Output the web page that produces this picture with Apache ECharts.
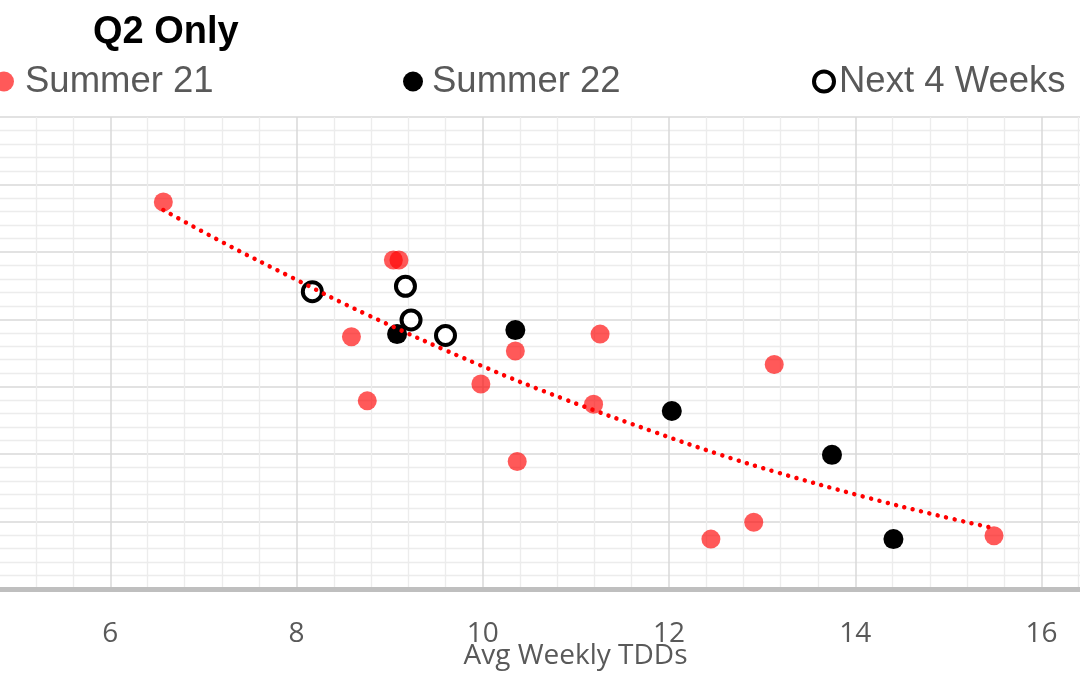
<!DOCTYPE html>
<html>
<head>
<meta charset="utf-8">
<script src="https://cdn.jsdelivr.net/npm/echarts@6/dist/echarts.min.js"></script>
<style>
html,body{margin:0;padding:0;background:#fff;}
#chart{width:1080px;height:675px;}
</style>
</head>
<body>
<div id="chart"></div>
<script>
// ---- data ----
var titleText = 'Q2 Only';
var xAxisName = 'Avg Weekly TDDs';
var seriesNames = ['Summer 21', 'Summer 22', 'Next 4 Weeks'];

var summer21 = [
  [6.57, 5.74], [9.04, 4.88], [9.10, 4.88], [8.59, 3.74], [8.76, 2.79],
  [10.35, 3.53], [11.26, 3.78], [9.98, 3.04], [11.19, 2.74], [10.37, 1.89],
  [13.13, 3.33], [12.91, 0.99], [12.45, 0.74], [15.49, 0.79]
];
var summer22 = [
  [9.08, 3.78], [10.35, 3.84], [12.03, 2.64], [13.75, 1.99], [14.41, 0.74]
];
var next4Weeks = [
  [8.17, 4.41], [9.17, 4.49], [9.23, 3.99], [9.60, 3.76]
];
// trendline read at several positions along the dotted curve
var trendX = [6.57, 7.25, 7.95, 8.74, 9.97, 10.87, 11.86, 12.51, 13.16, 14.09, 14.86, 15.43];
var trendY = [5.62, 5.11, 4.62, 4.08, 3.32, 2.82, 2.32, 2.01, 1.73, 1.37, 1.10, 0.92];

var trend = trendX.map(function (x, i) { return [x, trendY[i]]; });

var labelFont = '"Open Sans", "DejaVu Sans", sans-serif';
var arialFont = '"Liberation Sans", Arial, sans-serif';

var chart = echarts.init(document.getElementById('chart'), null, {renderer: 'canvas'});

function legendAt(name, left, padLeft, extraItemStyle) {
  var l = {
    show: true,
    data: [name],
    left: left,
    top: 63,
    padding: 0,
    itemWidth: 20,
    itemHeight: 20,
    textStyle: {
      fontFamily: arialFont,
      fontSize: 36.5,
      color: '#595959',
      padding: [0, 0, 0, padLeft]
    }
  };
  if (extraItemStyle) { l.itemStyle = extraItemStyle; }
  return l;
}

chart.setOption({
  animation: false,
  backgroundColor: '#ffffff',
  title: {
    text: titleText,
    left: 93,
    top: 14,
    padding: 0,
    textStyle: {
      fontFamily: arialFont,
      fontWeight: 'bold',
      fontSize: 38,
      color: '#000000'
    }
  },
  legend: [
    legendAt(seriesNames[0], -6, 6),
    legendAt(seriesNames[1], 403, 4),
    legendAt(seriesNames[2], 812, 0, {borderWidth: 4, borderColor: '#000000', color: '#ffffff'})
  ],
  grid: {
    left: -76,
    right: -36,
    top: 117,
    bottom: 86,
    containLabel: false,
    outerBoundsMode: 'none'
  },
  xAxis: {
    type: 'value',
    min: 4,
    max: 16.8,
    interval: 2,
    name: xAxisName,
    nameLocation: 'middle',
    nameGap: 53,
    nameMoveOverlap: false,
    nameTextStyle: {
      fontFamily: labelFont,
      fontSize: 28,
      color: '#595959',
      padding: [0, 0, 0, 111]
    },
    axisLine: {show: true, onZero: false, lineStyle: {color: '#bfbfbf', width: 5}},
    axisTick: {show: false},
    axisLabel: {
      show: true,
      margin: 31,
      fontFamily: labelFont,
      fontSize: 28,
      color: '#595959',
      showMinLabel: false,
      showMaxLabel: false
    },
    splitLine: {show: true, lineStyle: {color: '#d9d9d9', width: 1.5}},
    minorTick: {show: false, splitNumber: 5},
    minorSplitLine: {show: true, lineStyle: {color: '#ececec', width: 1.3}}
  },
  yAxis: {
    type: 'value',
    min: 0,
    max: 7,
    interval: 1,
    axisLine: {show: false},
    axisTick: {show: false},
    axisLabel: {show: false},
    splitLine: {show: true, lineStyle: {color: '#d9d9d9', width: 1.5}},
    minorTick: {show: false, splitNumber: 5},
    minorSplitLine: {show: true, lineStyle: {color: '#ececec', width: 1.3}}
  },
  series: [
    {
      name: seriesNames[0],
      type: 'scatter',
      data: summer21,
      symbol: 'circle',
      symbolSize: 19,
      itemStyle: {color: '#ff0000', opacity: 0.65},
      z: 2
    },
    {
      name: seriesNames[1],
      type: 'scatter',
      data: summer22,
      symbol: 'circle',
      symbolSize: 20,
      itemStyle: {color: '#000000', opacity: 1},
      z: 3
    },
    {
      name: seriesNames[2],
      type: 'scatter',
      data: next4Weeks,
      symbol: 'circle',
      symbolSize: 19,
      itemStyle: {color: '#ffffff', borderColor: '#000000', borderWidth: 4, opacity: 1},
      z: 4
    },
    {
      name: 'Trend',
      type: 'line',
      data: trend,
      smooth: 0.4,
      showSymbol: false,
      symbol: 'none',
      silent: true,
      lineStyle: {color: '#ff0000', width: 4.5, type: [0.01, 8.6], cap: 'round', opacity: 1},
      z: 5
    }
  ]
});
</script>
</body>
</html>
